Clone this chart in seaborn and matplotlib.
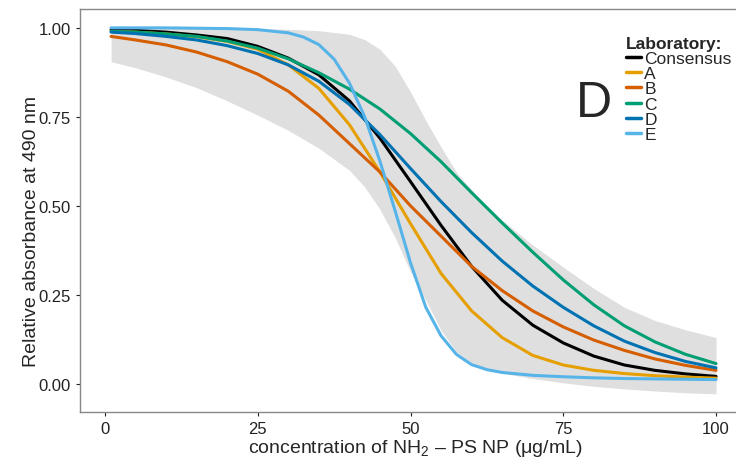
import matplotlib
matplotlib.use("Agg")
import matplotlib.pyplot as plt
import pandas as pd
import seaborn as sns

# values
conc = [1, 5, 10, 15, 20, 25, 30, 35, 40, 45, 50, 55, 60, 65, 70, 75, 80, 85, 90, 95, 100]
consensus = [0.995, 0.993, 0.988, 0.980, 0.970, 0.948, 0.915, 0.868, 0.795, 0.690, 0.568,
             0.445, 0.330, 0.235, 0.165, 0.115, 0.078, 0.053, 0.038, 0.028, 0.021]
lab_a = [0.990, 0.988, 0.983, 0.975, 0.962, 0.940, 0.896, 0.830, 0.728, 0.595, 0.450,
         0.310, 0.205, 0.130, 0.080, 0.053, 0.038, 0.029, 0.023, 0.019, 0.016]
lab_b = [0.976, 0.966, 0.952, 0.932, 0.905, 0.870, 0.822, 0.755, 0.675, 0.595, 0.500,
         0.415, 0.330, 0.262, 0.205, 0.160, 0.123, 0.094, 0.070, 0.052, 0.038]
lab_c = [0.990, 0.988, 0.983, 0.976, 0.963, 0.943, 0.913, 0.874, 0.828, 0.772, 0.703,
         0.624, 0.537, 0.452, 0.370, 0.292, 0.222, 0.163, 0.118, 0.083, 0.057]
lab_d = [0.988, 0.984, 0.976, 0.966, 0.950, 0.928, 0.896, 0.850, 0.785, 0.700, 0.605,
         0.512, 0.425, 0.345, 0.275, 0.215, 0.163, 0.120, 0.088, 0.063, 0.045]

conc_e = [1, 5, 10, 15, 20, 25, 30, 32.5, 35, 37.5, 40, 42.5, 45, 47.5, 50, 52.5, 55,
          57.5, 60, 62.5, 65, 70, 75, 80, 85, 90, 95, 100]
lab_e = [1.000, 1.000, 1.000, 0.999, 0.998, 0.995, 0.986, 0.974, 0.953, 0.912, 0.845,
         0.750, 0.625, 0.485, 0.340, 0.215, 0.135, 0.083, 0.054, 0.040, 0.032, 0.024,
         0.020, 0.017, 0.015, 0.014, 0.013, 0.012]

band_x = [1, 5, 10, 15, 20, 25, 30, 35, 40, 42.5, 45, 47.5, 50, 52.5, 55, 57.5, 60,
          62.5, 65, 70, 75, 80, 85, 90, 95, 100]
band_lo = [0.905, 0.888, 0.862, 0.832, 0.795, 0.755, 0.712, 0.662, 0.600, 0.553, 0.490,
           0.410, 0.315, 0.235, 0.150, 0.090, 0.058, 0.041, 0.030, 0.015, 0.003, -0.007,
           -0.014, -0.020, -0.025, -0.028]
band_hi = [1.000, 1.000, 1.000, 1.000, 0.999, 0.998, 0.996, 0.992, 0.982, 0.967, 0.940,
           0.892, 0.820, 0.740, 0.665, 0.595, 0.545, 0.500, 0.460, 0.390, 0.328, 0.268,
           0.215, 0.178, 0.152, 0.130]

labs = ["Consensus", "A", "B", "C", "D", "E"]
colors = ["black", "#E69F00", "#D55E00", "#009E73", "#0072B2", "#56B4E9"]

# long table for seaborn
frames = []
for name, xs, ys in [("Consensus", conc, consensus), ("A", conc, lab_a), ("B", conc, lab_b),
                     ("C", conc, lab_c), ("D", conc, lab_d), ("E", conc_e, lab_e)]:
    frames.append(pd.DataFrame({"conc": xs, "absorb": ys, "Laboratory": name}))
df = pd.concat(frames, ignore_index=True)

sns.set_style("white")
plt.rcParams["font.family"] = ["Liberation Sans", "DejaVu Sans"]
plt.rcParams["mathtext.fontset"] = "custom"
plt.rcParams["mathtext.rm"] = "Liberation Sans"
plt.rcParams["mathtext.it"] = "Liberation Sans:italic"

fig = plt.figure(figsize=(7.36, 4.6), dpi=100)
ax = fig.add_axes([80 / 736, 47 / 460, 666 / 736, 403 / 460])

ax.fill_between(band_x, band_lo, band_hi, color="#dfdfdf", linewidth=0)
sns.lineplot(data=df, x="conc", y="absorb", hue="Laboratory", hue_order=labs,
             palette=dict(zip(labs, colors)), linewidth=2.2, errorbar=None, ax=ax)

ax.set_xlim(-4.09, 104.9)
ax.set_ylim(-0.079, 1.053)
ax.set_xticks([0, 25, 50, 75, 100])
ax.set_yticks([0, 0.25, 0.5, 0.75, 1.0])
ax.set_yticklabels(["0.00", "0.25", "0.50", "0.75", "1.00"])
ax.tick_params(axis="both", labelsize=12, colors="#222222", length=3, width=0.8,
               direction="out", bottom=True, left=True)
for s in ax.spines.values():
    s.set_color("#888888")
    s.set_linewidth(1)

ax.set_xlabel("concentration of NH$_2$ – PS NP (μg/mL)", fontsize=14)
ax.set_ylabel("Relative absorbance at 490 nm", fontsize=14)
ax.xaxis.set_label_coords(0.503, -0.062)
ax.yaxis.set_label_coords(-0.060, 0.45)

ax.text(80, 0.79, "D", ha="center", va="center", fontsize=36)

leg = ax.legend(title="Laboratory:", loc="upper left", bbox_to_anchor=(626 / 736, 1 - 37 / 460),
                bbox_transform=fig.transFigure, frameon=False, fontsize=12.5,
                title_fontproperties={"weight": "bold", "size": 12.5},
                handlelength=0.86, handletextpad=0.2, labelspacing=0,
                borderpad=0, borderaxespad=0, alignment="left")
for h in leg.get_lines():
    h.set_linewidth(2.5)

fig.savefig("out.png", dpi=100)
